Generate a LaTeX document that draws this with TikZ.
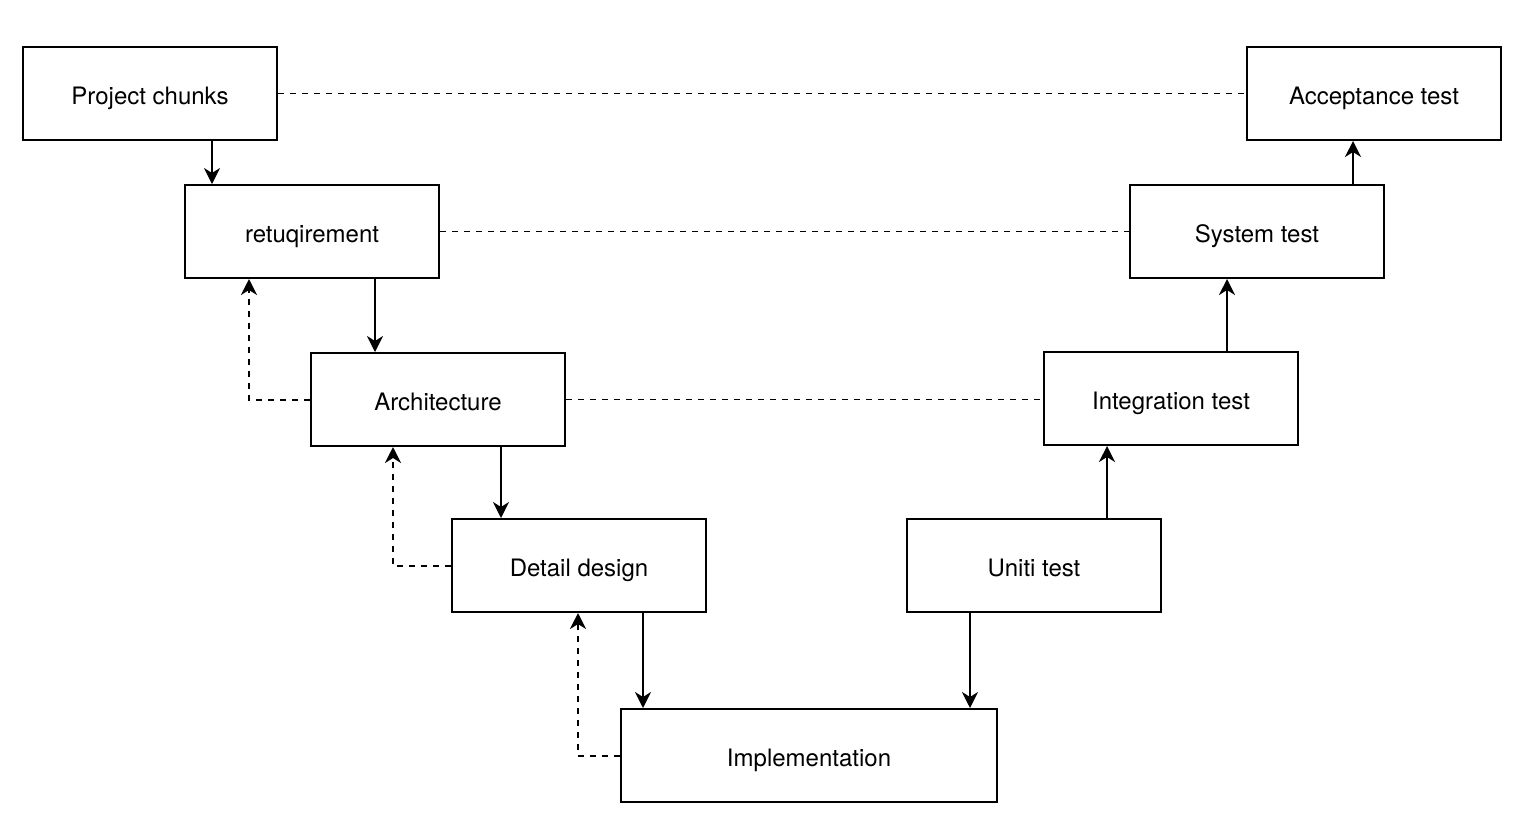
\documentclass[tikz,border=0pt]{standalone}
\usepackage{fontspec}
\setmainfont{TeX Gyre Heros}
\usepackage{tikz}
\usetikzlibrary{arrows.meta}

\begin{document}
\begin{tikzpicture}[x=0.5pt,y=-0.5pt,
  box/.style={draw,line width=1pt,minimum width=127pt,minimum height=46.5pt,
    text height=11pt,text depth=0pt,font=\fontsize{12}{14}\selectfont},
  arr/.style={line width=1pt,-{Stealth[length=8pt,width=8pt,inset=2.5pt]}},
  fb/.style={arr,dashed,dash pattern=on 3pt off 3pt},
  link/.style={line width=0.8pt,dash pattern=on 3pt off 3pt}]
\useasboundingbox (0,0) rectangle (1536,832);
\node[box] (pc) at (150,93.5) {Project chunks};
\node[box] (at) at (1374,93.5) {Acceptance test};
\node[box] (req) at (312,231.5) {retuqirement};
\node[box] (st) at (1257,231.5) {System test};
\node[box] (arch) at (438,399.5) {Architecture};
\node[box] (it) at (1171,398.5) {Integration test};
\node[box] (dd) at (579,565.5) {Detail design};
\node[box] (ut) at (1034,565.5) {Uniti test};
\node[box,minimum width=188pt] (impl) at (809,755.5) {Implementation};
% down the left side
\draw[arr] ([xshift=31pt]pc.south) -- ([xshift=31pt]pc.south |- req.north);
\draw[arr] ([xshift=31.5pt]req.south) -- ([xshift=31.5pt]req.south |- arch.north);
\draw[arr] ([xshift=31.5pt]arch.south) -- ([xshift=31.5pt]arch.south |- dd.north);
\draw[arr] ([xshift=32pt]dd.south) -- ([xshift=32pt]dd.south |- impl.north);
\draw[arr] ([xshift=-32pt]ut.south) -- ([xshift=-32pt]ut.south |- impl.north);
% up the right side
\draw[arr] ([xshift=36.5pt]ut.north) -- ([xshift=36.5pt]ut.north |- it.south);
\draw[arr] ([xshift=28pt]it.north) -- ([xshift=28pt]it.north |- st.south);
\draw[arr] ([xshift=48pt]st.north) -- ([xshift=48pt]st.north |- at.south);
% feedback
\draw[fb] (arch.west) -| ([xshift=-31.5pt]req.south);
\draw[fb] (dd.west) -| ([xshift=-22.5pt]arch.south);
\draw[fb] (impl.west) -| ([xshift=-0.5pt]dd.south);
% levels
\draw[link] (pc.east) -- (at.west);
\draw[link] (req.east) -- (st.west);
\draw[link] (arch.east) -- (arch.east -| it.west);
\end{tikzpicture}
\end{document}
